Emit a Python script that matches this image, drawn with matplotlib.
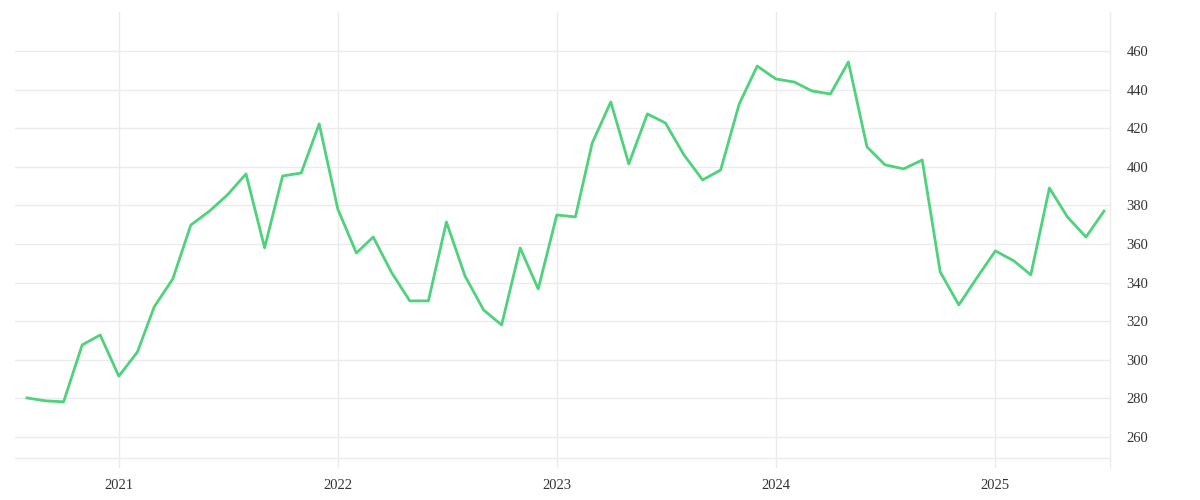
import pandas as pd
import matplotlib
matplotlib.use("Agg")
import matplotlib.pyplot as plt
import matplotlib.dates as mdates

# monthly values, Aug 2020 .. Jul 2025
months = pd.date_range("2020-08-01", "2025-07-01", freq="MS")
values = [
    280.2, 278.7, 278.2, 307.7, 312.8,
    291.5, 304.0, 327.4, 341.9, 369.8, 377.0, 385.4, 396.3, 358.0, 395.2, 396.8, 422.2,
    378.1, 355.3, 363.6, 345.0, 330.5, 330.5, 371.4, 343.4, 325.8, 318.0, 357.9, 336.7,
    375.0, 374.0, 412.3, 433.6, 401.5, 427.4, 422.7, 406.1, 393.2, 398.3, 432.5, 452.2,
    445.5, 443.9, 439.3, 437.7, 454.3, 410.3, 401.0, 398.9, 403.5, 345.5, 328.4, 342.4,
    356.4, 351.2, 344.0, 389.0, 374.0, 363.6, 377.0,
]
year_ticks = pd.to_datetime(["2021-01-01", "2022-01-01", "2023-01-01", "2024-01-01", "2025-01-01"])
year_labels = ["2021", "2022", "2023", "2024", "2025"]
y_ticks = [260, 280, 300, 320, 340, 360, 380, 400, 420, 440, 460]

grid_col = "#ebebeb"
line_col = "#4ed27b"
text_col = "#333333"

fig = plt.figure(figsize=(12, 5), dpi=100)
ax = fig.add_axes([0.0125, 0.064, 0.9125, 0.912])

ax.plot(months, values, color=line_col, linewidth=2.0, zorder=3)

ax.set_xlim(pd.Timestamp("2020-07-12"), pd.Timestamp("2025-07-11"))
ax.set_ylim(243.9, 480.2)

ax.yaxis.tick_right()
ax.set_yticks(y_ticks)
ax.set_xticks(year_ticks)
ax.set_xticklabels(year_labels)
ax.xaxis.set_major_formatter(mdates.DateFormatter("%Y"))

ax.grid(True, color=grid_col, linewidth=1.0, zorder=0)
ax.axhline(249, color=grid_col, linewidth=1.0, zorder=0)

for s in ["left", "top", "bottom"]:
    ax.spines[s].set_visible(False)
ax.spines["right"].set_color(grid_col)
ax.spines["right"].set_linewidth(1.0)

ax.tick_params(axis="both", length=0, labelcolor=text_col)
ax.tick_params(axis="y", pad=12)
ax.tick_params(axis="x", pad=8)
for lab in ax.get_xticklabels() + ax.get_yticklabels():
    lab.set_family("Liberation Serif")
    lab.set_fontsize(10.5)

fig.savefig("out.png", dpi=100, facecolor="white")
